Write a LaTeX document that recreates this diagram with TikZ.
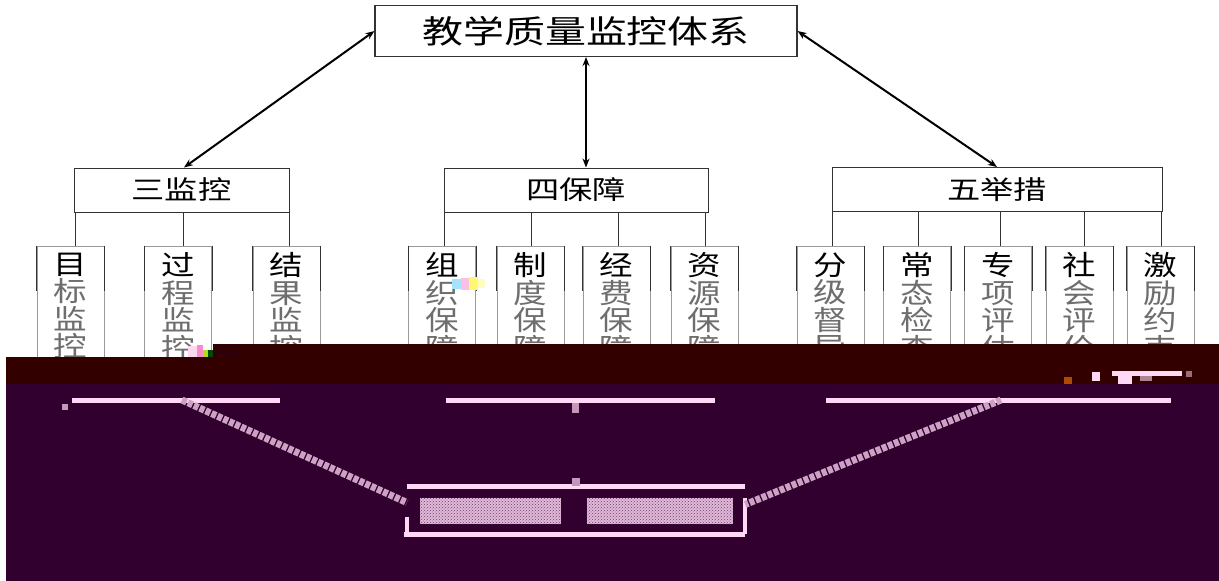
\documentclass[tikz,border=0pt]{standalone}
\usepackage{fontspec}
\newfontfamily\cjktitle[FakeStretch=1.28]{Noto Sans CJK SC}
\newfontfamily\cjkcol[FakeStretch=1.22]{Noto Sans CJK SC}
\usetikzlibrary{arrows.meta,calc,patterns}
\definecolor{bandmaroon}{HTML}{330000}
\definecolor{bandpurple}{HTML}{32002F}
\definecolor{pinkline}{HTML}{FFD8F6}
\definecolor{darkline}{HTML}{333333}
\definecolor{lightline}{HTML}{9A9A9A}
\definecolor{greytext}{HTML}{6E6E6E}
\tikzset{
  topbox/.style={draw=darkline, line width=1.1pt, minimum width=422, minimum height=51, inner sep=0pt, font=\cjktitle\fontsize{32}{32}\selectfont},
  grpbox/.style={draw=darkline, line width=1pt, minimum height=44, inner sep=0pt, font=\cjktitle\fontsize{26}{26}\selectfont},
  colbox/.style={draw=lightline, line width=1pt, anchor=north, minimum width=67, minimum height=125, inner sep=0pt},
  coltext/.style={anchor=north, align=center, inner sep=0pt, text=greytext, font=\cjkcol\fontsize{27.5}{27.5}\selectfont},
  dbl/.style={{Stealth[length=9pt,width=7pt]}-{Stealth[length=9pt,width=7pt]}, line width=2pt, black},
  conn/.style={line width=1pt, darkline},
  upper/.style={line width=1pt, darkline},
  bus/.style={line width=5pt, pinkline},
  glitchline/.style={line width=7pt, pinkline!75!bandpurple, dash pattern=on 5pt off 1.5pt},
}
\begin{document}
\begin{tikzpicture}[x=1pt,y=-1pt]
\useasboundingbox (0,0) rectangle (1219,581);
\fill[white] (0,0) rectangle (1219,581);

% top
\node[topbox] (top) at (586,31) {教学质量监控体系};

% groups
\node[grpbox, minimum width=215] (g1) at (181.5,190) {三监控};
\node[grpbox, minimum width=264] (g2) at (576,190) {四保障};
\node[grpbox, minimum width=330] (g3) at (997,189.5) {五举措};

% arrows
\draw[dbl] (top.west) -- ([xshift=2.5]g1.north);
\draw[dbl] (top.south) -- (top.south |- g2.north);
\draw[dbl] (top.east) -- (g3.north);

% column boxes
\foreach \n/\x/\ca/\cb/\cc/\cd in {
  c11/70.7/目/标/监/控,
  c12/178.3/过/程/监/控,
  c13/286.5/结/果/监/控,
  c21/442/组/织/保/障,
  c22/530.5/制/度/保/障,
  c23/616.5/经/费/保/障,
  c24/704.5/资/源/保/障,
  c31/830.5/分/级/督/导,
  c32/917/常/态/检/查,
  c33/998/专/项/评/估,
  c34/1079.5/社/会/评/价,
  c35/1160.5/激/励/约/束}{
  \node[colbox] (\n) at (\x,245.5) {};
  \draw[upper] (\n.north west) -- ++(0,45);
  \draw[upper] (\n.north east) -- ++(0,45);
  \node[coltext] (\n t) at ([yshift=-7]\n.north) {\textcolor{black}{\ca}\\\cb\\\cc\\\cd};
}
% connectors group -> columns
\foreach \n/\g/\dx in {c11/g1/4.8,c12/g1/5.2,c13/g1/3,c21/g2/2.5,c22/g2/0.5,c23/g2/1.5,c24/g2/0.5,c31/g3/1.5,c32/g3/1,c33/g3/2,c34/g3/4.5,c35/g3/0.5}{
  \draw[conn] ([xshift=\dx]\n.north) -- ([xshift=\dx]\n.north |- \g.south);
}

% glitch specks in the white area
\fill[cyan!35] (452,279) rectangle (461,289);
\fill[magenta!25] (461,278) rectangle (469,290);
\fill[yellow!55] (469,277) rectangle (478,290);
\fill[yellow!25] (478,279) rectangle (485,288);
\fill[magenta!15] (188,346) rectangle (197,357);
\fill[magenta!45] (197,345) rectangle (203,357);
\fill[yellow!70!green] (203,350) rectangle (208,357);
\fill[green!30!black] (208,350) rectangle (213,357);

% corrupted band
\fill[bandmaroon] (6,357) -- (213,357) -- (213,344) -- (1219,344) -- (1219,384) -- (6,384) -- cycle;
\fill[pattern=dots, pattern color=blue!50!black] (213,345) rectangle (238,357);
\fill[bandpurple] (6,384) rectangle (1219,581);

% glitch in band (right)
\fill[pinkline] (1112,371) rectangle (1182,376);
\fill[pinkline] (1092,372) rectangle (1100,381);
\fill[pinkline] (1118,376) rectangle (1132,384);
\fill[pinkline!60!bandmaroon] (1140,376) rectangle (1152,381);
\fill[orange!60!bandmaroon] (1064,377) rectangle (1072,384);
\fill[pinkline!50!bandmaroon] (1186,371) rectangle (1192,377);

% bottom box (corrupted)
\node[minimum width=338, minimum height=47, inner sep=0pt] (bot) at (576,510.5) {};
\draw[bus] (bot.north west) -- (bot.north east);
\draw[bus] ([xshift=-3]bot.south west) -- (bot.south east);
\draw[line width=4pt, pinkline] ([yshift=-6]bot.west) -- ([yshift=2]bot.south west);
\draw[line width=4pt, pinkline] ([yshift=-11]bot.north east) -- (bot.south east);
\node[inner sep=0pt, minimum width=141, minimum height=26, fill=pinkline!85!bandpurple] (b1) at (490.5,511) {};
\fill[pattern=crosshatch dots, pattern color=bandpurple!70!pinkline] (b1.south west) rectangle (b1.north east);
\node[inner sep=0pt, minimum width=146, minimum height=26, fill=pinkline!85!bandpurple] (b2) at (660,511) {};
\fill[pattern=crosshatch dots, pattern color=bandpurple!70!pinkline] (b2.south west) rectangle (b2.north east);

% buses
\coordinate (u1) at (182,400);
\coordinate (u3) at (1001,400);
\draw[bus] (72,400) -- (280,400);
\draw[bus] (446,400) -- (715,400);
\draw[bus] (826,400) -- (1171,400);
\fill[pinkline!70!bandpurple] (62,404) rectangle (68,410);
\fill[pinkline!70!bandpurple] (572,403) rectangle (579,413);
\fill[pinkline!70!bandpurple] (572,478) rectangle (580,486);
% diagonals
\draw[glitchline] (u1) -- ([yshift=8]bot.west);
\draw[glitchline] (u3) -- ([yshift=6]bot.east);
\end{tikzpicture}
\end{document}
